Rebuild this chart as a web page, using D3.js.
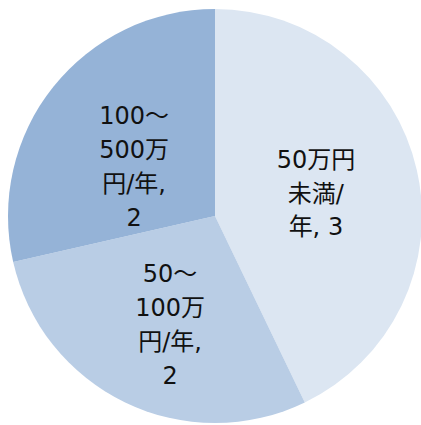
<!DOCTYPE html>
<html>
<head>
<meta charset="utf-8">
<script src="https://cdn.jsdelivr.net/npm/d3@7"></script>
<style>
  html, body { margin: 0; padding: 0; background: #fff; }
  svg { display: block; }
  .lbl { font-family: "DejaVu Sans", "Noto Sans CJK JP", sans-serif; font-size: 24px; fill: #111; }
</style>
</head>
<body>
<div id="chart"></div>
<script>
// Income bands and counts
const categories = ['50万円未満/年', '50～100万円/年', '100～500万円/年'];
const values = [3, 2, 2];
const colors = ['#dce6f2', '#b9cde5', '#95b3d7'];
// Label text as wrapped in the original chart
const labelLines = [
  ['50万円', '未満/', '年, 3'],
  ['50～', '100万', '円/年,', '2'],
  ['100～', '500万', '円/年,', '2']
];

const width = 421, height = 425;
const cx = 215, cy = 216, radius = 207;

const svg = d3.select('#chart').append('svg')
  .attr('width', width)
  .attr('height', height);

const g = svg.append('g').attr('transform', `translate(${cx},${cy})`);

const pie = d3.pie().sort(null).value(d => d.value);
const arcs = pie(categories.map((c, i) => ({ name: c, value: values[i], idx: i })));

const arc = d3.arc().innerRadius(0).outerRadius(radius);
const labelArc = d3.arc().innerRadius(0).outerRadius(radius);

g.selectAll('path.slice')
  .data(arcs)
  .join('path')
  .attr('class', 'slice')
  .attr('d', arc)
  .attr('fill', d => colors[d.data.idx]);

// labels at the slice centroid, lines stacked around it
const lineH = 33.8;
arcs.forEach(d => {
  const lines = labelLines[d.data.idx];
  const [x, y] = labelArc.centroid(d);
  // longer labels sit a bit lower, like the original
  const shift = lines.length > 3 ? 15 : 0;
  const top = y + shift - (lines.length - 1) * lineH / 2;
  const t = g.append('text')
    .attr('class', 'lbl')
    .attr('text-anchor', 'middle');
  lines.forEach((s, j) => {
    t.append('tspan')
      .attr('x', x)
      .attr('y', top + j * lineH)
      .attr('dy', '0.36em')
      .text(s);
  });
});
</script>
</body>
</html>
